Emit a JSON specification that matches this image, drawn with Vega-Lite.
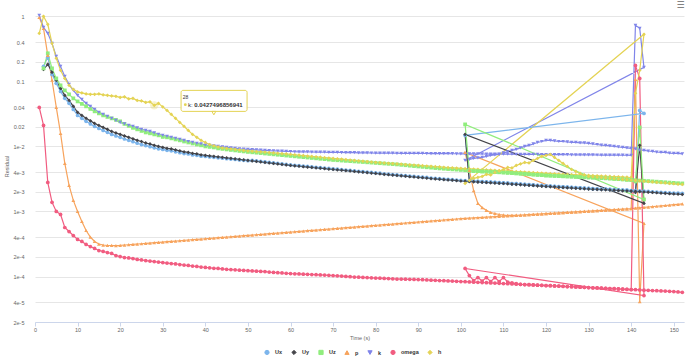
{
"$schema": "https://vega.github.io/schema/vega-lite/v6.json",
"width": 649, "height": 312,
"autosize": {"type": "none"},
"padding": {"left": 35, "top": 10, "right": 6, "bottom": 37},
"background": "white",
"config": {"font": "Liberation Sans", "view": {"stroke": null}},
"datasets": {"runs": [
{"i":1,"t":1,"p":0.965,"k":1.036,"omega":0.0398,"h":0.548},
{"i":2,"t":2,"Ux":0.170,"Uy":0.153,"Uz":0.1585,"p":0.654,"k":0.677,"omega":0.02104,"h":1.0},
{"i":3,"t":3,"Ux":0.234,"Uy":0.183,"Uz":0.270,"p":0.251,"k":0.548,"omega":0.00279,"h":0.753},
{"i":4,"t":4,"Ux":0.128,"Uy":0.138,"Uz":0.1585,"p":0.104,"k":0.384,"omega":0.00138,"h":0.384},
{"i":5,"t":5,"Ux":0.0932,"Uy":0.104,"Uz":0.111,"p":0.0398,"k":0.2425,"omega":0.00100,"h":0.226},
{"i":6,"t":6,"Ux":0.0701,"Uy":0.0780,"Uz":0.0868,"p":0.0159,"k":0.170,"omega":0.000899,"h":0.148},
{"i":7,"t":7,"Ux":0.0548,"Uy":0.0609,"Uz":0.0727,"p":0.00548,"k":0.119,"omega":0.000567,"h":0.111},
{"i":8,"t":8,"Ux":0.0459,"Uy":0.0510,"Uz":0.0631,"p":0.00251,"k":0.0899,"omega":0.000492,"h":0.0868},
{"i":9,"t":9,"Ux":0.0371,"Uy":0.0413,"Uz":0.0548,"p":0.00148,"k":0.0727,"omega":0.000427,"h":0.0753},
{"i":10,"t":10,"Ux":0.0300,"Uy":0.0334,"Uz":0.0492,"p":0.00100,"k":0.0609,"omega":0.000371,"h":0.0689},
{"i":11,"t":11,"Ux":0.0270,"Uy":0.0300,"Uz":0.0451,"p":0.000702,"k":0.0529,"omega":0.000346,"h":0.0665},
{"i":12,"t":12,"Ux":0.0243,"Uy":0.0270,"Uz":0.0413,"p":0.000510,"k":0.0459,"omega":0.000311,"h":0.0642},
{"i":13,"t":13,"Ux":0.0222,"Uy":0.0247,"Uz":0.0377,"p":0.000405,"k":0.0413,"omega":0.000289,"h":0.0631},
{"i":14,"t":14,"Ux":0.0203,"Uy":0.0226,"Uz":0.0346,"p":0.000346,"k":0.0371,"omega":0.000270,"h":0.0631},
{"i":15,"t":15,"Ux":0.0189,"Uy":0.0210,"Uz":0.0322,"p":0.000316,"k":0.0334,"omega":0.000251,"h":0.0642},
{"i":16,"t":16,"Ux":0.0176,"Uy":0.0196,"Uz":0.0300,"p":0.000305,"k":0.0311,"omega":0.000243,"h":0.0620},
{"i":17,"t":17,"Ux":0.0165,"Uy":0.0183,"Uz":0.0284,"p":0.000300,"k":0.0289,"omega":0.000234,"h":0.0609},
{"i":18,"t":18,"Ux":0.0153,"Uy":0.0170,"Uz":0.0270,"p":0.000300,"k":0.0270,"omega":0.000226,"h":0.0598},
{"i":19,"t":19,"Ux":0.0145,"Uy":0.0161,"Uz":0.0256,"p":0.000299,"k":0.0251,"omega":0.000210,"h":0.0588},
{"i":20,"t":20,"Ux":0.0138,"Uy":0.0153,"Uz":0.0243,"p":0.000301,"k":0.0234,"omega":0.000203,"h":0.0567},
{"i":21,"t":21,"Ux":0.0130,"Uy":0.0145,"Uz":0.0222,"p":0.000305,"k":0.0222,"omega":0.000196,"h":0.0578},
{"i":22,"t":22,"Ux":0.0124,"Uy":0.0138,"Uz":0.0207,"p":0.000308,"k":0.0210,"omega":0.000193,"h":0.0538},
{"i":23,"t":23,"Ux":0.0118,"Uy":0.0131,"Uz":0.0193,"p":0.000312,"k":0.0203,"omega":0.000189,"h":0.0548},
{"i":24,"t":24,"Ux":0.0112,"Uy":0.0124,"Uz":0.0183,"p":0.000316,"k":0.0193,"omega":0.000183,"h":0.0510},
{"i":25,"t":25,"Ux":0.0107,"Uy":0.0119,"Uz":0.0173,"p":0.000319,"k":0.0183,"omega":0.000180,"h":0.0501},
{"i":26,"t":26,"Ux":0.0103,"Uy":0.0113,"Uz":0.0164,"p":0.000323,"k":0.0176,"omega":0.000176,"h":0.0475},
{"i":27,"t":27,"Ux":0.00992,"Uy":0.0109,"Uz":0.0159,"p":0.000327,"k":0.0170,"omega":0.000173,"h":0.0484},
{"i":28,"t":28,"Ux":0.00951,"Uy":0.0104,"Uz":0.0153,"p":0.000331,"k":0.0161,"omega":0.000170,"h":0.0427496856941},
{"i":29,"t":29,"Ux":0.00918,"Uy":0.0100,"Uz":0.0148,"p":0.000335,"k":0.0153,"omega":0.000167,"h":0.0459},
{"i":30,"t":30,"Ux":0.00899,"Uy":0.00965,"Uz":0.0140,"p":0.000339,"k":0.0148,"omega":0.000164,"h":0.0405},
{"i":31,"t":31,"Ux":0.00870,"Uy":0.00932,"Uz":0.0138,"p":0.000343,"k":0.0143,"omega":0.000161,"h":0.0358},
{"i":32,"t":32,"Ux":0.00856,"Uy":0.00916,"Uz":0.0133,"p":0.000347,"k":0.0138,"omega":0.0001585,"h":0.0311},
{"i":33,"t":33,"Ux":0.00827,"Uy":0.00883,"Uz":0.0128,"p":0.000351,"k":0.0133,"omega":0.000156,"h":0.0270},
{"i":34,"t":34,"Ux":0.00800,"Uy":0.00852,"Uz":0.0124,"p":0.000355,"k":0.0128,"omega":0.000153,"h":0.0234},
{"i":35,"t":35,"Ux":0.00778,"Uy":0.00823,"Uz":0.0119,"p":0.000359,"k":0.0124,"omega":0.000150,"h":0.0204},
{"i":36,"t":36,"Ux":0.00766,"Uy":0.00809,"Uz":0.0115,"p":0.000364,"k":0.0119,"omega":0.000148,"h":0.0176},
{"i":37,"t":37,"Ux":0.00740,"Uy":0.00780,"Uz":0.0111,"p":0.000368,"k":0.0115,"omega":0.000145,"h":0.0153},
{"i":38,"t":38,"Ux":0.00730,"Uy":0.00767,"Uz":0.0107,"p":0.000372,"k":0.0111,"omega":0.000143,"h":0.0138},
{"i":39,"t":39,"Ux":0.00706,"Uy":0.00740,"Uz":0.0104,"p":0.000377,"k":0.0109,"omega":0.000140,"h":0.0124},
{"i":40,"t":40,"Ux":0.00702,"Uy":0.00727,"Uz":0.0100,"p":0.000381,"k":0.0105,"omega":0.000138,"h":0.0115},
{"i":41,"t":41,"Ux":0.00690,"Uy":0.00714,"Uz":0.00983,"p":0.000386,"k":0.0104,"omega":0.000136,"h":0.0107},
{"i":42,"t":42,"Ux":0.00679,"Uy":0.00702,"Uz":0.00965,"p":0.000390,"k":0.0102,"omega":0.000134,"h":0.0102},
{"i":43,"t":43,"Ux":0.00669,"Uy":0.00690,"Uz":0.00932,"p":0.000395,"k":0.0100,"omega":0.000133,"h":0.00983},
{"i":44,"t":44,"Ux":0.00658,"Uy":0.00677,"Uz":0.00916,"p":0.000400,"k":0.00983,"omega":0.000131,"h":0.00948},
{"i":45,"t":45,"Ux":0.00648,"Uy":0.00665,"Uz":0.00899,"p":0.000404,"k":0.00965,"omega":0.000129,"h":0.00932},
{"i":46,"t":46,"Ux":0.00639,"Uy":0.00654,"Uz":0.00883,"p":0.000409,"k":0.00948,"omega":0.000128,"h":0.00916},
{"i":47,"t":47,"Ux":0.00630,"Uy":0.00643,"Uz":0.00868,"p":0.000414,"k":0.00932,"omega":0.000127,"h":0.00899},
{"i":48,"t":48,"Ux":0.00620,"Uy":0.00631,"Uz":0.00852,"p":0.000419,"k":0.00916,"omega":0.000125,"h":0.00883},
{"i":49,"t":49,"Ux":0.00611,"Uy":0.00620,"Uz":0.00838,"p":0.000424,"k":0.00910,"omega":0.000124,"h":0.00868},
{"i":50,"t":50,"Ux":0.00603,"Uy":0.00609,"Uz":0.00823,"p":0.000429,"k":0.00899,"omega":0.000123,"h":0.00852},
{"i":51,"t":51,"Ux":0.00610,"Uy":0.00598,"Uz":0.00812,"p":0.000434,"k":0.00890,"omega":0.000122,"h":0.00845},
{"i":52,"t":52,"Ux":0.00600,"Uy":0.00588,"Uz":0.00801,"p":0.000439,"k":0.00882,"omega":0.000121,"h":0.00835},
{"i":53,"t":53,"Ux":0.00589,"Uy":0.00577,"Uz":0.00790,"p":0.000444,"k":0.00875,"omega":0.000120,"h":0.00825},
{"i":54,"t":54,"Ux":0.00578,"Uy":0.00567,"Uz":0.00778,"p":0.000450,"k":0.00868,"omega":0.000119,"h":0.00815},
{"i":55,"t":55,"Ux":0.00568,"Uy":0.00557,"Uz":0.00767,"p":0.000455,"k":0.00860,"omega":0.000117,"h":0.00805},
{"i":56,"t":56,"Ux":0.00559,"Uy":0.00548,"Uz":0.00756,"p":0.000460,"k":0.00855,"omega":0.0001158,"h":0.00795},
{"i":57,"t":57,"Ux":0.00549,"Uy":0.00538,"Uz":0.00745,"p":0.000466,"k":0.00850,"omega":0.0001146,"h":0.00785},
{"i":58,"t":58,"Ux":0.00540,"Uy":0.00529,"Uz":0.00735,"p":0.000471,"k":0.00845,"omega":0.0001134,"h":0.00775},
{"i":59,"t":59,"Ux":0.00529,"Uy":0.00519,"Uz":0.00724,"p":0.000477,"k":0.00840,"omega":0.0001122,"h":0.00765},
{"i":60,"t":60,"Ux":0.00520,"Uy":0.00510,"Uz":0.00714,"p":0.000483,"k":0.00835,"omega":0.000111,"h":0.00753},
{"i":61,"t":61,"Ux":0.00513,"Uy":0.00503,"Uz":0.00704,"p":0.000488,"k":0.00828,"omega":0.0001103,"h":0.00742},
{"i":62,"t":62,"Ux":0.00506,"Uy":0.00496,"Uz":0.00694,"p":0.000494,"k":0.00826,"omega":0.0001096,"h":0.00732},
{"i":63,"t":63,"Ux":0.00499,"Uy":0.00489,"Uz":0.00684,"p":0.000500,"k":0.00824,"omega":0.0001088,"h":0.00722},
{"i":64,"t":64,"Ux":0.00492,"Uy":0.00482,"Uz":0.00675,"p":0.000506,"k":0.00822,"omega":0.0001081,"h":0.00711},
{"i":65,"t":65,"Ux":0.00485,"Uy":0.00475,"Uz":0.00665,"p":0.000512,"k":0.00820,"omega":0.0001074,"h":0.00701},
{"i":66,"t":66,"Ux":0.00478,"Uy":0.00469,"Uz":0.00656,"p":0.000518,"k":0.00818,"omega":0.0001066,"h":0.00692},
{"i":67,"t":67,"Ux":0.00471,"Uy":0.00462,"Uz":0.00646,"p":0.000524,"k":0.00816,"omega":0.0001059,"h":0.00682},
{"i":68,"t":68,"Ux":0.00465,"Uy":0.00456,"Uz":0.00637,"p":0.000530,"k":0.00814,"omega":0.0001051,"h":0.00672},
{"i":69,"t":69,"Ux":0.00458,"Uy":0.00449,"Uz":0.00628,"p":0.000537,"k":0.00812,"omega":0.0001044,"h":0.00663},
{"i":70,"t":70,"Ux":0.00452,"Uy":0.00443,"Uz":0.00619,"p":0.000543,"k":0.00810,"omega":0.0001036,"h":0.00654},
{"i":71,"t":71,"Ux":0.00446,"Uy":0.00437,"Uz":0.00613,"p":0.000550,"k":0.00808,"omega":0.0001025,"h":0.00645},
{"i":72,"t":72,"Ux":0.00440,"Uy":0.00431,"Uz":0.00606,"p":0.000556,"k":0.00806,"omega":0.0001015,"h":0.00636},
{"i":73,"t":73,"Ux":0.00434,"Uy":0.00425,"Uz":0.00600,"p":0.000563,"k":0.00804,"omega":0.0001004,"h":0.00627},
{"i":74,"t":74,"Ux":0.00427,"Uy":0.00419,"Uz":0.00594,"p":0.000570,"k":0.00802,"omega":0.0000994,"h":0.00618},
{"i":75,"t":75,"Ux":0.00421,"Uy":0.00413,"Uz":0.00588,"p":0.000576,"k":0.00800,"omega":0.0000983,"h":0.00609},
{"i":76,"t":76,"Ux":0.00415,"Uy":0.00407,"Uz":0.00582,"p":0.000583,"k":0.00798,"omega":0.0000976,"h":0.00601},
{"i":77,"t":77,"Ux":0.00409,"Uy":0.00401,"Uz":0.00576,"p":0.000590,"k":0.00796,"omega":0.0000969,"h":0.00592},
{"i":78,"t":78,"Ux":0.00404,"Uy":0.00396,"Uz":0.00570,"p":0.000597,"k":0.00794,"omega":0.0000962,"h":0.00584},
{"i":79,"t":79,"Ux":0.00398,"Uy":0.00390,"Uz":0.00564,"p":0.000604,"k":0.00792,"omega":0.0000955,"h":0.00576},
{"i":80,"t":80,"Ux":0.00392,"Uy":0.00384,"Uz":0.00558,"p":0.000612,"k":0.00790,"omega":0.0000948,"h":0.00568},
{"i":81,"t":81,"Ux":0.00387,"Uy":0.00379,"Uz":0.00552,"p":0.000619,"k":0.00789,"omega":0.0000942,"h":0.00562},
{"i":82,"t":82,"Ux":0.00380,"Uy":0.00373,"Uz":0.00546,"p":0.000626,"k":0.00788,"omega":0.0000935,"h":0.00556},
{"i":83,"t":83,"Ux":0.00375,"Uy":0.00368,"Uz":0.00540,"p":0.000634,"k":0.00787,"omega":0.0000929,"h":0.00550},
{"i":84,"t":84,"Ux":0.00370,"Uy":0.00363,"Uz":0.00535,"p":0.000641,"k":0.00786,"omega":0.0000922,"h":0.00544},
{"i":85,"t":85,"Ux":0.00365,"Uy":0.00358,"Uz":0.00529,"p":0.000649,"k":0.00785,"omega":0.0000916,"h":0.00538},
{"i":86,"t":86,"Ux":0.00360,"Uy":0.00353,"Uz":0.00521,"p":0.000657,"k":0.00784,"omega":0.0000913,"h":0.00533},
{"i":87,"t":87,"Ux":0.00355,"Uy":0.00348,"Uz":0.00514,"p":0.000665,"k":0.00783,"omega":0.0000909,"h":0.00527},
{"i":88,"t":88,"Ux":0.00350,"Uy":0.00343,"Uz":0.00506,"p":0.000673,"k":0.00782,"omega":0.0000906,"h":0.00521},
{"i":89,"t":89,"Ux":0.00346,"Uy":0.00339,"Uz":0.00499,"p":0.000681,"k":0.00781,"omega":0.0000903,"h":0.00516},
{"i":90,"t":90,"Ux":0.00341,"Uy":0.00334,"Uz":0.00492,"p":0.000689,"k":0.00780,"omega":0.0000899,"h":0.00510},
{"i":91,"t":91,"Ux":0.00337,"Uy":0.00330,"Uz":0.00485,"p":0.000697,"k":0.00779,"omega":0.0000893,"h":0.00505},
{"i":92,"t":92,"Ux":0.00333,"Uy":0.00326,"Uz":0.00478,"p":0.000705,"k":0.00778,"omega":0.0000887,"h":0.00500},
{"i":93,"t":93,"Ux":0.00327,"Uy":0.00321,"Uz":0.00472,"p":0.000714,"k":0.00777,"omega":0.0000880,"h":0.00494},
{"i":94,"t":94,"Ux":0.00323,"Uy":0.00317,"Uz":0.00465,"p":0.000722,"k":0.00776,"omega":0.0000874,"h":0.00489},
{"i":95,"t":95,"Ux":0.00319,"Uy":0.00313,"Uz":0.00459,"p":0.000731,"k":0.00775,"omega":0.0000868,"h":0.00484},
{"i":96,"t":96,"Ux":0.00315,"Uy":0.00309,"Uz":0.00454,"p":0.000740,"k":0.00774,"omega":0.0000862,"h":0.00478},
{"i":97,"t":97,"Ux":0.00311,"Uy":0.00305,"Uz":0.00449,"p":0.000748,"k":0.00773,"omega":0.0000856,"h":0.00473},
{"i":98,"t":98,"Ux":0.00308,"Uy":0.00302,"Uz":0.00444,"p":0.000757,"k":0.00772,"omega":0.0000850,"h":0.00468},
{"i":99,"t":99,"Ux":0.00304,"Uy":0.00298,"Uz":0.00440,"p":0.000766,"k":0.00771,"omega":0.0000844,"h":0.00463},
{"i":100,"t":100,"Ux":0.00300,"Uy":0.00294,"Uz":0.00435,"p":0.000776,"k":0.00770,"omega":0.0000838,"h":0.00459},
{"i":101,"t":101,"Ux":0.00298,"Uy":0.00292,"Uz":0.00430,"p":0.000783,"k":0.00769,"omega":0.0000832,"h":0.00455},
{"i":102,"t":102,"Ux":0.00295,"Uy":0.00289,"Uz":0.00426,"p":0.000790,"k":0.00768,"omega":0.0000826,"h":0.00451},
{"i":103,"t":103,"Ux":0.00293,"Uy":0.00287,"Uz":0.00422,"p":0.000797,"k":0.00767,"omega":0.0000820,"h":0.00447},
{"i":104,"t":104,"Ux":0.00290,"Uy":0.00284,"Uz":0.00417,"p":0.000804,"k":0.00766,"omega":0.0000815,"h":0.00443},
{"i":105,"t":105,"Ux":0.00288,"Uy":0.00282,"Uz":0.00413,"p":0.000811,"k":0.00765,"omega":0.0000809,"h":0.00439},
{"i":106,"t":106,"Ux":0.00285,"Uy":0.00279,"Uz":0.00410,"p":0.000818,"k":0.00764,"omega":0.0000803,"h":0.00435},
{"i":107,"t":107,"Ux":0.00283,"Uy":0.00277,"Uz":0.00407,"p":0.000825,"k":0.00763,"omega":0.0000797,"h":0.00431},
{"i":108,"t":108,"Ux":0.00281,"Uy":0.00275,"Uz":0.00404,"p":0.000833,"k":0.00762,"omega":0.0000792,"h":0.00428},
{"i":109,"t":109,"Ux":0.00277,"Uy":0.00272,"Uz":0.00401,"p":0.000840,"k":0.00761,"omega":0.0000786,"h":0.00424},
{"i":110,"t":110,"Ux":0.00275,"Uy":0.00270,"Uz":0.00398,"p":0.000848,"k":0.00760,"omega":0.0000780,"h":0.00420},
{"i":111,"t":111,"Ux":0.00272,"Uy":0.00267,"Uz":0.00394,"p":0.000855,"k":0.00759,"omega":0.0000775,"h":0.00416},
{"i":112,"t":112,"Ux":0.00269,"Uy":0.00264,"Uz":0.00390,"p":0.000863,"k":0.00758,"omega":0.0000769,"h":0.00413},
{"i":113,"t":113,"Ux":0.00267,"Uy":0.00262,"Uz":0.00386,"p":0.000871,"k":0.00757,"omega":0.0000764,"h":0.00409},
{"i":114,"t":114,"Ux":0.00264,"Uy":0.00259,"Uz":0.00382,"p":0.000878,"k":0.00756,"omega":0.0000758,"h":0.00405},
{"i":115,"t":115,"Ux":0.00261,"Uy":0.00256,"Uz":0.00378,"p":0.000886,"k":0.00755,"omega":0.0000753,"h":0.00402},
{"i":116,"t":116,"Ux":0.00259,"Uy":0.00254,"Uz":0.00374,"p":0.000894,"k":0.00754,"omega":0.0000748,"h":0.00398},
{"i":117,"t":117,"Ux":0.00256,"Uy":0.00251,"Uz":0.00370,"p":0.000902,"k":0.00753,"omega":0.0000743,"h":0.00395},
{"i":118,"t":118,"Ux":0.00253,"Uy":0.00248,"Uz":0.00366,"p":0.000910,"k":0.00752,"omega":0.0000737,"h":0.00391},
{"i":119,"t":119,"Ux":0.00251,"Uy":0.00246,"Uz":0.00362,"p":0.000918,"k":0.00751,"omega":0.0000732,"h":0.00388},
{"i":120,"t":120,"Ux":0.00248,"Uy":0.00243,"Uz":0.00358,"p":0.000926,"k":0.00750,"omega":0.0000727,"h":0.00384},
{"i":121,"t":121,"Ux":0.00246,"Uy":0.00241,"Uz":0.00356,"p":0.000935,"k":0.00749,"omega":0.0000722,"h":0.00381},
{"i":122,"t":122,"Ux":0.00244,"Uy":0.00239,"Uz":0.00353,"p":0.000943,"k":0.00748,"omega":0.0000717,"h":0.00379},
{"i":123,"t":123,"Ux":0.00241,"Uy":0.00236,"Uz":0.00351,"p":0.000951,"k":0.00747,"omega":0.0000712,"h":0.00376},
{"i":124,"t":124,"Ux":0.00239,"Uy":0.00234,"Uz":0.00348,"p":0.000960,"k":0.00746,"omega":0.0000707,"h":0.00373},
{"i":125,"t":125,"Ux":0.00237,"Uy":0.00232,"Uz":0.00346,"p":0.000968,"k":0.00745,"omega":0.0000702,"h":0.00371},
{"i":126,"t":126,"Ux":0.00235,"Uy":0.00230,"Uz":0.00344,"p":0.000977,"k":0.00744,"omega":0.0000697,"h":0.00368},
{"i":127,"t":127,"Ux":0.00233,"Uy":0.00228,"Uz":0.00341,"p":0.000986,"k":0.00743,"omega":0.0000692,"h":0.00365},
{"i":128,"t":128,"Ux":0.00231,"Uy":0.00226,"Uz":0.00339,"p":0.000995,"k":0.00742,"omega":0.0000687,"h":0.00363},
{"i":129,"t":129,"Ux":0.00228,"Uy":0.00224,"Uz":0.00336,"p":0.001004,"k":0.00741,"omega":0.0000682,"h":0.00360},
{"i":130,"t":130,"Ux":0.00226,"Uy":0.00222,"Uz":0.00334,"p":0.001013,"k":0.00740,"omega":0.0000677,"h":0.00358},
{"i":131,"t":131,"Ux":0.00224,"Uy":0.00220,"Uz":0.00332,"p":0.001022,"k":0.00739,"omega":0.0000672,"h":0.00355},
{"i":132,"t":132,"Ux":0.00223,"Uy":0.00219,"Uz":0.00329,"p":0.001031,"k":0.00738,"omega":0.0000668,"h":0.00353},
{"i":133,"t":133,"Ux":0.00221,"Uy":0.00217,"Uz":0.00327,"p":0.001040,"k":0.00737,"omega":0.0000663,"h":0.00350},
{"i":134,"t":134,"Ux":0.00220,"Uy":0.00216,"Uz":0.00324,"p":0.001049,"k":0.00736,"omega":0.0000658,"h":0.00348},
{"i":135,"t":135,"Ux":0.00218,"Uy":0.00214,"Uz":0.00322,"p":0.001059,"k":0.00735,"omega":0.0000654,"h":0.00345},
{"i":136,"t":136,"Ux":0.00216,"Uy":0.00212,"Uz":0.00318,"p":0.001068,"k":0.00734,"omega":0.0000649,"h":0.00343},
{"i":137,"t":137,"Ux":0.00215,"Uy":0.00211,"Uz":0.00315,"p":0.001078,"k":0.00733,"omega":0.0000645,"h":0.00341},
{"i":138,"t":138,"Ux":0.00213,"Uy":0.00209,"Uz":0.00312,"p":0.001087,"k":0.00732,"omega":0.0000640,"h":0.00338},
{"i":139,"t":139,"Ux":0.00212,"Uy":0.00208,"Uz":0.00308,"p":0.001097,"k":0.00731,"omega":0.0000636,"h":0.00336},
{"i":140,"t":140,"Ux":0.00210,"Uy":0.00206,"Uz":0.00305,"p":0.001107,"k":0.00730,"omega":0.0000631,"h":0.00333},
{"i":141,"t":141,"Ux":0.00205,"Uy":0.00196,"Uz":0.00289,"p":0.107,"k":0.727,"omega":0.176,"h":0.0654},
{"i":142,"t":142,"Ux":0.0358,"Uy":0.0104,"Uz":0.0196,"p":0.0000413,"k":0.654,"omega":0.111,"h":0.148},
{"i":143,"t":143,"Ux":0.0322,"Uy":0.00133,"Uz":0.00153,"p":0.000654,"k":0.164,"omega":0.0000510,"h":0.529},
{"i":144,"t":101,"Ux":0.0148,"Uy":0.0153,"Uz":0.0218,"p":0.00809,"k":0.00609,"omega":0.000133,"h":0.00270},
{"i":145,"t":102,"Ux":0.00293,"Uy":0.00289,"Uz":0.00420,"p":0.00427,"k":0.00631,"omega":0.0001036,"h":0.00300},
{"i":146,"t":103,"Ux":0.00293,"Uy":0.00287,"Uz":0.00418,"p":0.00210,"k":0.00654,"omega":0.0000868,"h":0.00322},
{"i":147,"t":104,"Ux":0.00290,"Uy":0.00284,"Uz":0.00417,"p":0.00133,"k":0.00665,"omega":0.0000965,"h":0.00334},
{"i":148,"t":105,"Ux":0.00288,"Uy":0.00282,"Uz":0.00413,"p":0.00115,"k":0.00677,"omega":0.0000853,"h":0.00346},
{"i":149,"t":106,"Ux":0.00285,"Uy":0.00279,"Uz":0.00410,"p":0.00104,"k":0.00702,"omega":0.0000965,"h":0.00371},
{"i":150,"t":107,"Ux":0.00283,"Uy":0.00277,"Uz":0.00407,"p":0.000965,"k":0.00727,"omega":0.0000838,"h":0.00365},
{"i":151,"t":108,"Ux":0.00281,"Uy":0.00275,"Uz":0.00404,"p":0.000932,"k":0.00740,"omega":0.0000965,"h":0.00398},
{"i":152,"t":109,"Ux":0.00277,"Uy":0.00272,"Uz":0.00401,"p":0.000899,"k":0.00753,"omega":0.0000838,"h":0.00419},
{"i":153,"t":110,"Ux":0.00275,"Uy":0.00270,"Uz":0.00398,"p":0.000883,"k":0.00794,"omega":0.0000965,"h":0.00443},
{"i":154,"t":111,"Ux":0.00272,"Uy":0.00267,"Uz":0.00394,"p":0.000868,"k":0.00823,"omega":0.0000823,"h":0.00475},
{"i":155,"t":112,"Ux":0.00269,"Uy":0.00264,"Uz":0.00390,"p":0.000870,"k":0.00868,"omega":0.0000800,"h":0.00467},
{"i":156,"t":113,"Ux":0.00267,"Uy":0.00262,"Uz":0.00386,"p":0.000875,"k":0.00899,"omega":0.0000780,"h":0.00510},
{"i":157,"t":114,"Ux":0.00264,"Uy":0.00259,"Uz":0.00382,"p":0.000880,"k":0.00948,"omega":0.0000760,"h":0.00538},
{"i":158,"t":115,"Ux":0.00261,"Uy":0.00256,"Uz":0.00378,"p":0.000886,"k":0.0100,"omega":0.0000753,"h":0.00567},
{"i":159,"t":116,"Ux":0.00259,"Uy":0.00254,"Uz":0.00374,"p":0.000894,"k":0.0104,"omega":0.0000748,"h":0.00558},
{"i":160,"t":117,"Ux":0.00256,"Uy":0.00251,"Uz":0.00370,"p":0.000902,"k":0.0109,"omega":0.0000743,"h":0.00609},
{"i":161,"t":118,"Ux":0.00253,"Uy":0.00248,"Uz":0.00366,"p":0.000910,"k":0.0115,"omega":0.0000737,"h":0.00654},
{"i":162,"t":119,"Ux":0.00251,"Uy":0.00246,"Uz":0.00362,"p":0.000918,"k":0.0119,"omega":0.0000732,"h":0.00702},
{"i":163,"t":120,"Ux":0.00248,"Uy":0.00243,"Uz":0.00358,"p":0.000926,"k":0.0124,"omega":0.0000727,"h":0.00727},
{"i":164,"t":121,"Ux":0.00246,"Uy":0.00241,"Uz":0.00356,"p":0.000935,"k":0.0124,"omega":0.0000722,"h":0.00753},
{"i":165,"t":122,"Ux":0.00244,"Uy":0.00239,"Uz":0.00353,"p":0.000943,"k":0.0122,"omega":0.0000717,"h":0.00677},
{"i":166,"t":123,"Ux":0.00241,"Uy":0.00236,"Uz":0.00351,"p":0.000951,"k":0.0119,"omega":0.0000712,"h":0.00609},
{"i":167,"t":124,"Ux":0.00239,"Uy":0.00234,"Uz":0.00348,"p":0.000960,"k":0.0119,"omega":0.0000707,"h":0.00548},
{"i":168,"t":125,"Ux":0.00237,"Uy":0.00232,"Uz":0.00346,"p":0.000968,"k":0.0117,"omega":0.0000702,"h":0.00492},
{"i":169,"t":126,"Ux":0.00235,"Uy":0.00230,"Uz":0.00344,"p":0.000977,"k":0.0115,"omega":0.0000697,"h":0.00443},
{"i":170,"t":127,"Ux":0.00233,"Uy":0.00228,"Uz":0.00341,"p":0.000986,"k":0.0115,"omega":0.0000692,"h":0.00413},
{"i":171,"t":128,"Ux":0.00231,"Uy":0.00226,"Uz":0.00339,"p":0.000995,"k":0.0113,"omega":0.0000687,"h":0.00384},
{"i":172,"t":129,"Ux":0.00228,"Uy":0.00224,"Uz":0.00336,"p":0.001004,"k":0.0113,"omega":0.0000682,"h":0.00365},
{"i":173,"t":130,"Ux":0.00226,"Uy":0.00222,"Uz":0.00334,"p":0.001013,"k":0.0111,"omega":0.0000677,"h":0.00346},
{"i":174,"t":131,"Ux":0.00224,"Uy":0.00220,"Uz":0.00332,"p":0.001022,"k":0.0109,"omega":0.0000672,"h":0.00342},
{"i":175,"t":132,"Ux":0.00223,"Uy":0.00219,"Uz":0.00329,"p":0.001031,"k":0.0107,"omega":0.0000668,"h":0.00337},
{"i":176,"t":133,"Ux":0.00221,"Uy":0.00217,"Uz":0.00327,"p":0.001040,"k":0.0105,"omega":0.0000663,"h":0.00333},
{"i":177,"t":134,"Ux":0.00220,"Uy":0.00216,"Uz":0.00324,"p":0.001049,"k":0.0104,"omega":0.0000658,"h":0.00328},
{"i":178,"t":135,"Ux":0.00218,"Uy":0.00214,"Uz":0.00322,"p":0.001059,"k":0.0102,"omega":0.0000654,"h":0.00324},
{"i":179,"t":136,"Ux":0.00216,"Uy":0.00212,"Uz":0.00318,"p":0.001068,"k":0.0100,"omega":0.0000649,"h":0.00320},
{"i":180,"t":137,"Ux":0.00215,"Uy":0.00211,"Uz":0.00315,"p":0.001078,"k":0.0098,"omega":0.0000645,"h":0.00316},
{"i":181,"t":138,"Ux":0.00213,"Uy":0.00209,"Uz":0.00312,"p":0.001087,"k":0.0097,"omega":0.0000640,"h":0.00312},
{"i":182,"t":139,"Ux":0.00212,"Uy":0.00208,"Uz":0.00308,"p":0.001097,"k":0.0095,"omega":0.0000636,"h":0.00308},
{"i":183,"t":140,"Ux":0.00210,"Uy":0.00206,"Uz":0.00305,"p":0.001107,"k":0.0093,"omega":0.0000631,"h":0.00304},
{"i":184,"t":141,"Ux":0.00209,"Uy":0.00204,"Uz":0.00302,"p":0.001125,"k":0.0092,"omega":0.0000627,"h":0.00300},
{"i":185,"t":142,"Ux":0.00207,"Uy":0.00202,"Uz":0.00299,"p":0.001140,"k":0.0088,"omega":0.0000622,"h":0.00296},
{"i":186,"t":143,"Ux":0.00205,"Uy":0.00200,"Uz":0.00296,"p":0.001156,"k":0.0087,"omega":0.0000617,"h":0.00292},
{"i":187,"t":144,"Ux":0.00203,"Uy":0.00198,"Uz":0.00293,"p":0.001171,"k":0.0085,"omega":0.0000613,"h":0.00288},
{"i":188,"t":145,"Ux":0.00201,"Uy":0.00196,"Uz":0.00290,"p":0.001187,"k":0.0084,"omega":0.0000609,"h":0.00284},
{"i":189,"t":146,"Ux":0.00199,"Uy":0.00194,"Uz":0.00287,"p":0.001203,"k":0.0082,"omega":0.0000605,"h":0.00281},
{"i":190,"t":147,"Ux":0.00197,"Uy":0.00192,"Uz":0.00284,"p":0.001219,"k":0.0081,"omega":0.0000601,"h":0.00277},
{"i":191,"t":148,"Ux":0.00195,"Uy":0.00190,"Uz":0.00281,"p":0.001236,"k":0.0081,"omega":0.0000597,"h":0.00274},
{"i":192,"t":149,"Ux":0.00194,"Uy":0.00188,"Uz":0.00278,"p":0.001253,"k":0.0079,"omega":0.0000592,"h":0.00270},
{"i":193,"t":150,"Ux":0.00192,"Uy":0.00186,"Uz":0.00275,"p":0.001270,"k":0.0078,"omega":0.0000588,"h":0.00267},
{"i":194,"t":151,"Ux":0.00191,"Uy":0.00185,"Uz":0.00272,"p":0.001287,"k":0.0078,"omega":0.0000580,"h":0.00263},
{"i":195,"t":152,"Ux":0.00190,"Uy":0.00183,"Uz":0.00270,"p":0.001305,"k":0.0077,"omega":0.0000572,"h":0.00260}
]},
"layer": [
{
"data": {"name": "runs"},
"transform": [
{"fold": ["Ux","Uy","Uz","p","k","omega","h"], "as": ["series","value"]},
{"filter": "isValid(datum.value) && datum.value > 0"}
],
"encoding": {
"x": {"field": "t", "type": "quantitative", "scale": {"domain": [0,152.4], "nice": false, "zero": false},
"axis": {"values": [0,10,20,30,40,50,60,70,80,90,100,110,120,130,140,150], "title": "Time (s)", "grid": false, "domainColor": "#ccd6eb", "tickColor": "#ccd6eb", "tickSize": 4, "labelFontSize": 5.5, "labelColor": "#666666", "labelPadding": 1, "labelFlush": false, "titleFontSize": 5.5, "titleFontWeight": "normal", "titleColor": "#666666", "titlePadding": 3}},
"y": {"field": "value", "type": "quantitative", "scale": {"type": "log", "domain": [0.00002,1.25], "nice": false},
"axis": {"values": [1,0.4,0.2,0.1,0.04,0.02,0.01,0.004,0.002,0.001,0.0004,0.0002,0.0001,0.00004,0.00002],
"labelExpr": "datum.value >= 0.015 ? toString(datum.value) : (round(datum.value / pow(10, floor(log(datum.value)/LN10 + 0.000001))) + 'e' + floor(log(datum.value)/LN10 + 0.000001))",
"title": "Residual", "grid": true, "gridColor": "#e6e6e6", "domain": false, "ticks": false, "labelFontSize": 5.5, "labelColor": "#666666", "labelPadding": 11, "titleFontSize": 5.5, "titleFontWeight": "normal", "titleColor": "#666666", "titlePadding": 3}},
"color": {"field": "series", "type": "nominal", "scale": {"domain": ["Ux","Uy","Uz","p","k","omega","h"], "range": ["#7cb5ec","#434348","#90ed7d","#f7a35c","#8085e9","#f15c80","#e4d354"]},
"legend": {"title": null, "orient": "none", "legendX": 229, "legendY": 339, "direction": "horizontal", "columns": 7, "labelFontSize": 5.5, "labelFontWeight": "bold", "labelColor": "#333333", "symbolSize": 18, "labelOffset": 5, "columnPadding": 6, "padding": 0, "symbolStrokeWidth": 1}}
},
"layer": [
{"mark": {"type": "line", "strokeWidth": 1.2},
"encoding": {"order": {"field": "i", "type": "quantitative"}}},
{"mark": {"type": "point", "filled": true, "size": 14, "opacity": 1, "strokeWidth": 0},
"encoding": {
"shape": {"field": "series", "type": "nominal", "scale": {"domain": ["Ux","Uy","Uz","p","k","omega","h"], "range": ["circle","diamond","square","triangle-up","triangle-down","circle","diamond"]},
"legend": {"title": null, "orient": "none", "legendX": 229, "legendY": 339, "direction": "horizontal", "columns": 7, "labelFontSize": 5.5, "labelFontWeight": "bold", "labelColor": "#333333", "symbolSize": 18, "labelOffset": 5, "columnPadding": 6, "padding": 0, "symbolStrokeWidth": 1}}
}}
]
},
{"data": {"values": [{}]},
"mark": {"type": "point", "filled": true, "size": 70, "color": "#e4d354", "opacity": 0.3, "strokeWidth": 0},
"encoding": {"x": {"datum": 28, "type": "quantitative"}, "y": {"datum": 0.0427496856941, "type": "quantitative"}}},
{"data": {"values": [{}]},
"mark": {"type": "rect", "fill": "white", "fillOpacity": 0.9, "stroke": "#e4d354", "strokeWidth": 1, "cornerRadius": 2},
"encoding": {"x": {"datum": 34.3, "type": "quantitative"}, "x2": {"datum": 49.8}, "y": {"datum": 0.0727, "type": "quantitative"}, "y2": {"datum": 0.03455}}},
{"data": {"values": [{}]},
"mark": {"type": "point", "shape": "triangle-down", "filled": true, "size": 16, "fill": "white", "stroke": "#e4d354", "strokeWidth": 1, "opacity": 1},
"encoding": {"x": {"datum": 42.0, "type": "quantitative"}, "y": {"datum": 0.0325, "type": "quantitative"}}},
{"data": {"values": [{}]},
"mark": {"type": "text", "text": "28", "align": "left", "baseline": "middle", "fontSize": 5, "color": "#333333"},
"encoding": {"x": {"datum": 34.7, "type": "quantitative"}, "y": {"datum": 0.0573, "type": "quantitative"}}},
{"data": {"values": [{}]},
"mark": {"type": "point", "shape": "circle", "filled": true, "size": 8, "color": "#e4d354", "opacity": 1},
"encoding": {"x": {"datum": 35.3, "type": "quantitative"}, "y": {"datum": 0.0438, "type": "quantitative"}}},
{"data": {"values": [{}]},
"mark": {"type": "text", "text": "k: ", "align": "left", "baseline": "middle", "fontSize": 6, "color": "#333333"},
"encoding": {"x": {"datum": 35.9, "type": "quantitative"}, "y": {"datum": 0.0438, "type": "quantitative"}}},
{"data": {"values": [{}]},
"mark": {"type": "text", "text": "0.0427496856941", "align": "left", "baseline": "middle", "fontSize": 6, "fontWeight": "bold", "color": "#333333"},
"encoding": {"x": {"datum": 37.4, "type": "quantitative"}, "y": {"datum": 0.0438, "type": "quantitative"}}},
{"data": {"values": [{}]},
"mark": {"type": "text", "text": "☰", "align": "center", "baseline": "middle", "fontSize": 9, "font": "DejaVu Sans", "color": "#666666"},
"encoding": {"x": {"datum": 151.6, "type": "quantitative"}, "y": {"datum": 1.47, "type": "quantitative"}}}
]
}
